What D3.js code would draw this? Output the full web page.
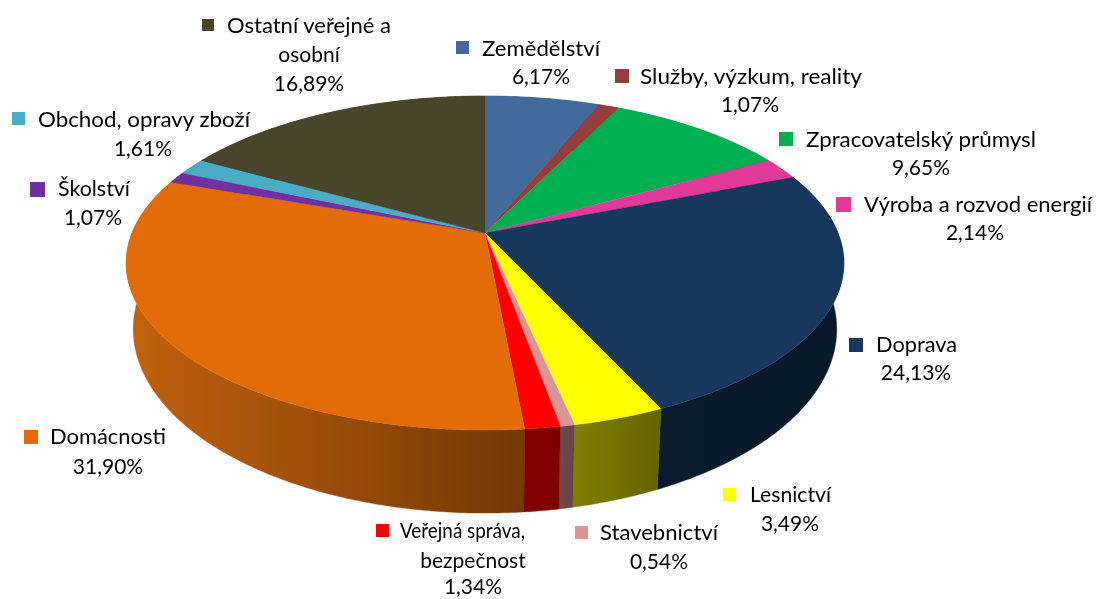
<!DOCTYPE html>
<html lang="cs">
<head>
<meta charset="utf-8">
<script src="https://cdn.jsdelivr.net/npm/d3@7"></script>
<style>
html,body{margin:0;padding:0;background:#fff;overflow:hidden}
svg{display:block}
text{font-family:Lato,"Open Sans",sans-serif;font-size:21px;fill:#000}
</style>
</head>
<body>
<svg id="chart" width="1098" height="599"></svg>
<script>
// Data
const categories = ["Zemědělství","Služby, výzkum, reality","Zpracovatelský průmysl","Výroba a rozvod energií","Doprava","Lesnictví","Stavebnictví","Veřejná správa, bezpečnost","Domácnosti","Školství","Obchod, opravy zboží","Ostatní veřejné a osobní"];
const shares = [6.17,1.07,9.65,2.14,24.13,3.49,0.54,1.34,31.90,1.07,1.61,16.89];
const shareLabels = ["6,17%","1,07%","9,65%","2,14%","24,13%","3,49%","0,54%","1,34%","31,90%","1,07%","1,61%","16,89%"];

// Styles
const topColors = ["#426a9a","#953d3b","#00b050","#e0399a","#17375e","#ffff00","#d99694","#ff0000","#e36c09","#7030a0","#4bacc6","#4a452a"];
const wallLight = ["#2a4463","#5f2625","#007033","#8f2462","#0b1b2e","#808000","#6e4b4a","#800000","#c2620d","#48206a","#2f6f80","#2f2c1b"];
const wallDark  = ["#2a4463","#5f2625","#007033","#8f2462","#08172a","#636300","#654444","#7d0000","#743805","#48206a","#2f6f80","#2f2c1b"];

// Layout of labels: marker box, first-line extent, following-line centres
const labelLayout = [
 {mx:456,my:41,ms:13,lines:["Zemědělství"],x0:482,x1:600,y0:49,cx:541,pctY:77},
 {mx:615,my:69,ms:14,lines:["Služby, výzkum, reality"],x0:640,x1:862,y0:77,cx:750,pctY:105},
 {mx:779,my:132,ms:14,lines:["Zpracovatelský průmysl"],x0:806,x1:1036,y0:140,cx:921,pctY:168},
 {mx:836,my:197,ms:15,lines:["Výroba a rozvod energií"],x0:864,x1:1092,y0:205,cx:975,pctY:233},
 {mx:849,my:338,ms:14,lines:["Doprava"],x0:876,x1:957,y0:345,cx:916,pctY:373},
 {mx:723,my:488,ms:13,lines:["Lesnictví"],x0:750,x1:831,y0:495,cx:790,pctY:524},
 {mx:575,my:526,ms:13,lines:["Stavebnictví"],x0:600,x1:718,y0:533,cx:659,pctY:562},
 {mx:376,my:524,ms:13,lines:["Veřejná správa,","bezpečnost"],x0:400,x1:525,y0:531,cx:473,lineY:561,pctY:587},
 {mx:24,my:430,ms:14,lines:["Domácnosti"],x0:50,x1:166,y0:437,cx:108,pctY:467},
 {mx:30,my:182,ms:15,lines:["Školství"],x0:58,x1:130,y0:189,cx:93,pctY:218},
 {mx:12,my:112,ms:13,lines:["Obchod, opravy zboží"],x0:38,x1:250,y0:120,cx:143,pctY:149},
 {mx:202,my:19,ms:12,lines:["Ostatní veřejné a","osobní"],x0:227,x1:391,y0:26,cx:309,lineY:55,pctY:84}
];

// Perspective disc: unit circle tilted toward the viewer
const tilt = 0.18;
const topDisc = {x:485,y:233,rx:353,ry:161.6};
const baseDisc = {x:485,y:296,rx:346,ry:178};
const project = (a, disc) => {
  const ux = Math.sin(a), uy = -Math.cos(a), w = 1 - tilt * uy;
  return [disc.x + disc.rx * ux / w, disc.y + disc.ry * uy / w];
};

const svg = d3.select("#chart");
const defs = svg.append("defs");
defs.append("filter").attr("id","soft").attr("x","-5%").attr("y","-20%").attr("width","110%").attr("height","140%")
  .append("feGaussianBlur").attr("stdDeviation",0.45);

const pie = d3.pie().sort(null).value(d => d)(shares);
const line = d3.line();
const arcAngles = d => {
  const n = Math.max(2, Math.ceil((d.endAngle - d.startAngle) / 0.01));
  return d3.range(n + 1).map(i => d.startAngle + (d.endAngle - d.startAngle) * i / n);
};

// Walls: painted back to front
const midDepth = d => -Math.cos((d.startAngle + d.endAngle) / 2);
const wallOrder = pie.map((d,i) => ({d,i})).sort((a,b) => midDepth(a.d) - midDepth(b.d));
wallOrder.forEach(({d,i}) => {
  const ang = arcAngles(d);
  const top = ang.map(a => project(a,topDisc));
  const bot = ang.map(a => project(a,baseDisc)).reverse();
  const xs = top.map(p => p[0]);
  const gid = "wall" + i;
  const g = defs.append("linearGradient").attr("id",gid).attr("gradientUnits","userSpaceOnUse")
    .attr("x1",d3.min(xs)).attr("x2",d3.max(xs)).attr("y1",0).attr("y2",0);
  g.append("stop").attr("offset",0).attr("stop-color",wallLight[i]);
  g.append("stop").attr("offset",1).attr("stop-color",wallDark[i]);
  svg.append("path").attr("d",line(top.concat(bot)) + "Z")
    .attr("fill",`url(#${gid})`).attr("stroke",`url(#${gid})`).attr("stroke-width",0.4);
});

// Top faces
svg.append("g").selectAll("path").data(pie).join("path")
  .attr("d",d => line([[topDisc.x,topDisc.y]].concat(arcAngles(d).map(a => project(a,topDisc)))) + "Z")
  .attr("fill",(d,i) => topColors[i])
  .attr("stroke",(d,i) => topColors[i]).attr("stroke-width",0.4);

// Labels
const labels = svg.append("g");
labelLayout.forEach((L,i) => {
  labels.append("rect").attr("x",L.mx).attr("y",L.my).attr("width",L.ms).attr("height",L.ms).attr("fill",topColors[i]);
  const t = labels.append("g").attr("filter","url(#soft)");
  t.append("text").attr("x",L.x0).attr("y",L.y0).attr("dy","0.34em")
    .attr("textLength",L.x1-L.x0).attr("lengthAdjust","spacingAndGlyphs").text(L.lines[0]);
  L.lines.slice(1).forEach(s => {
    t.append("text").attr("x",L.cx).attr("y",L.lineY).attr("dy","0.34em")
      .attr("text-anchor","middle").text(s);
  });
  t.append("text").attr("x",L.cx).attr("y",L.pctY).attr("dy","0.34em")
    .attr("text-anchor","middle").text(shareLabels[i]);
});
</script>
</body>
</html>
